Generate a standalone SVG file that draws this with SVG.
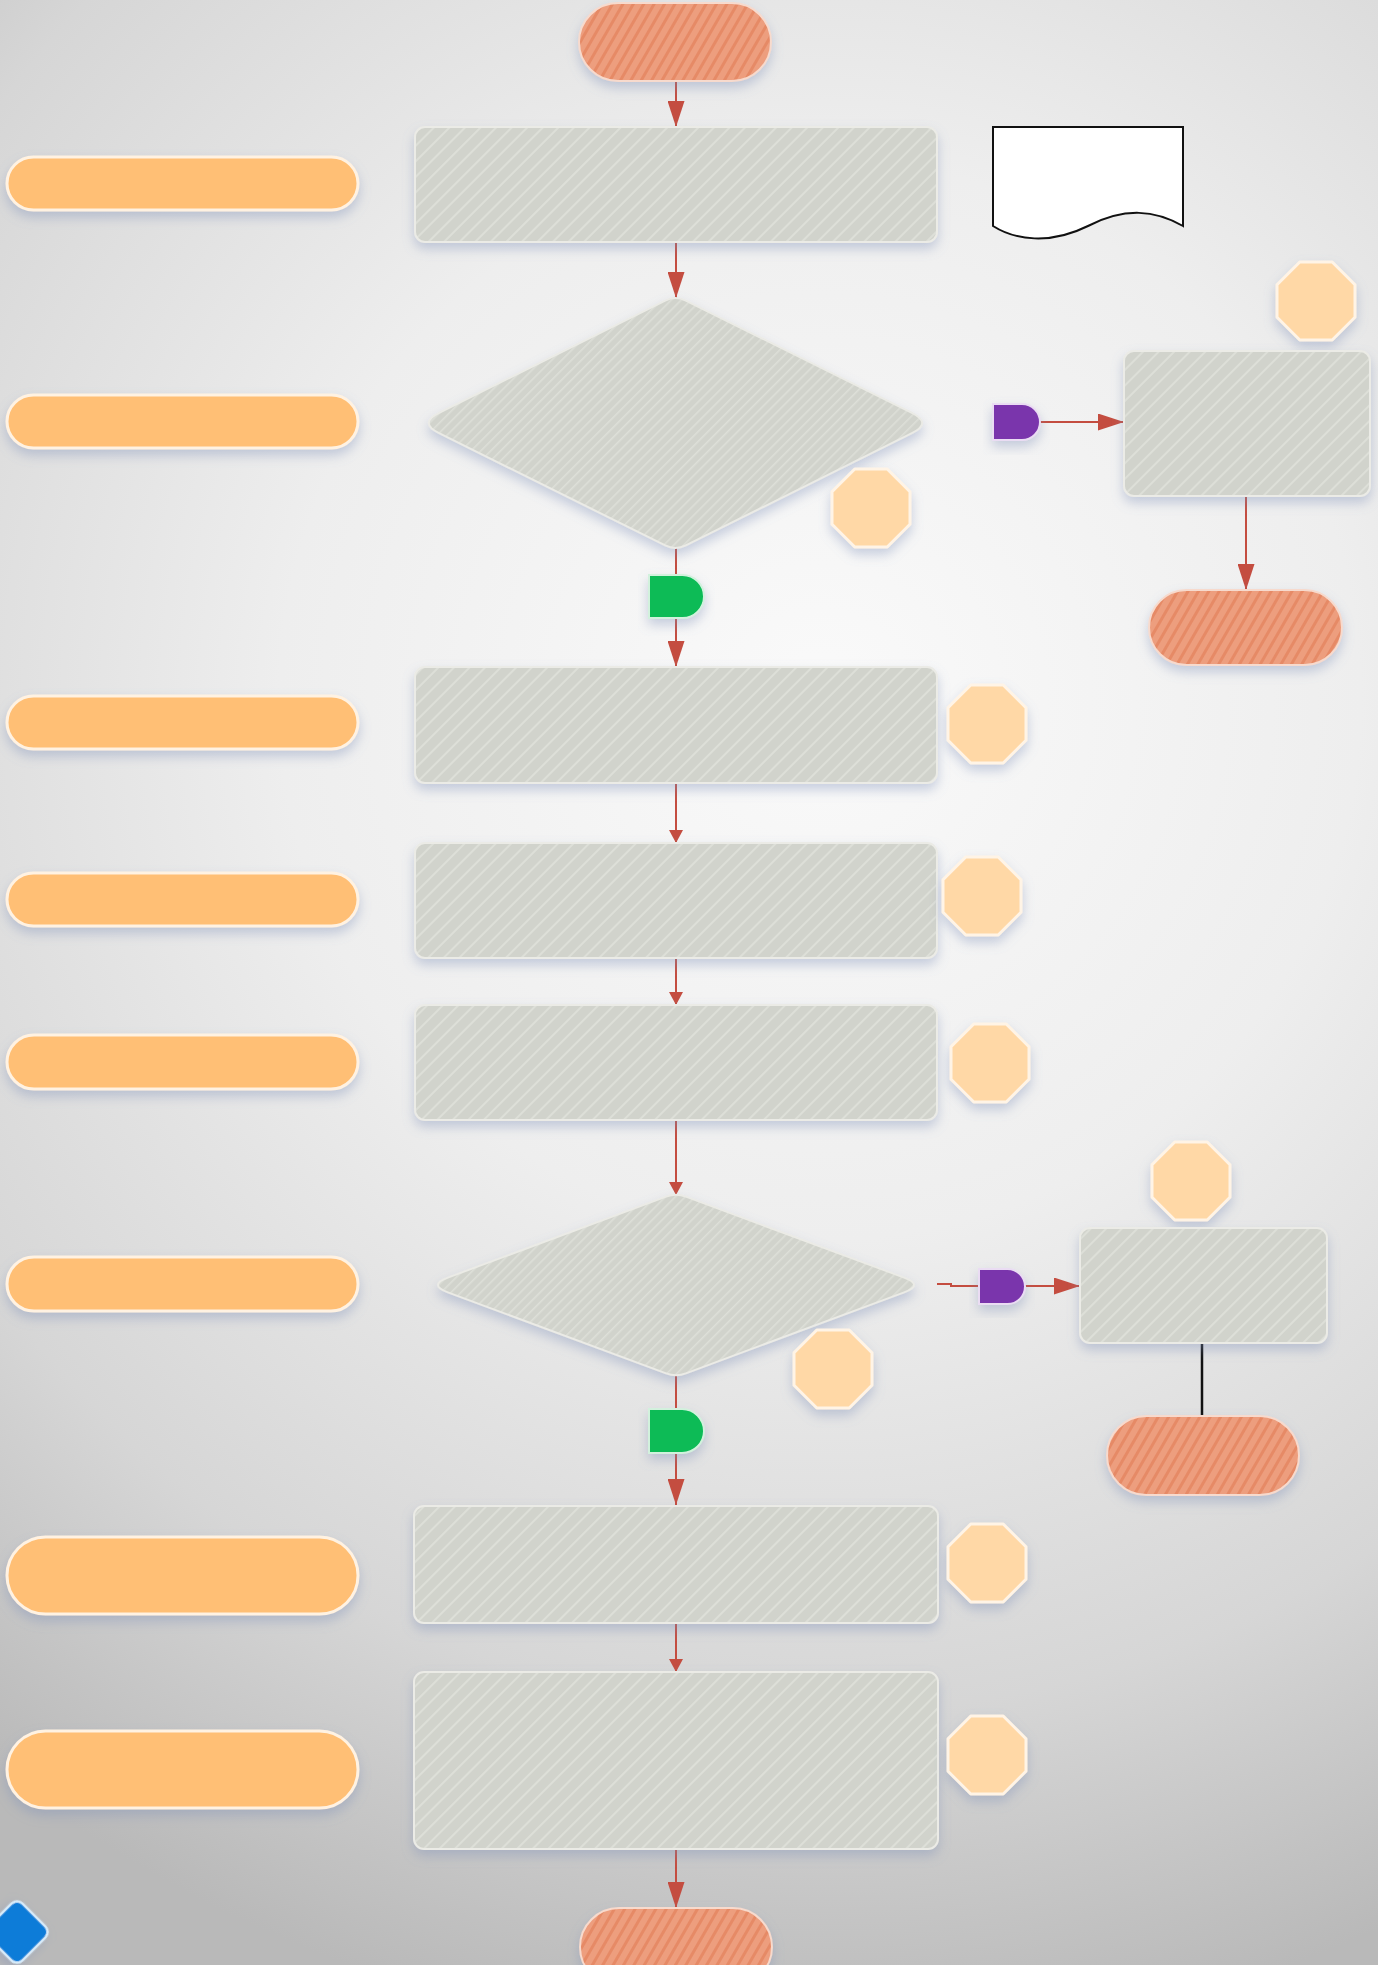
<svg xmlns="http://www.w3.org/2000/svg" width="1378" height="1965" viewBox="0 0 1378 1965">
<defs>
  <radialGradient id="bg" gradientUnits="userSpaceOnUse" cx="820" cy="700" r="1350">
    <stop offset="0" stop-color="#fafafa"/>
    <stop offset="0.4" stop-color="#eeeeee"/>
    <stop offset="0.75" stop-color="#d6d6d6"/>
    <stop offset="1" stop-color="#b9b9b9"/>
  </radialGradient>
  <pattern id="hatchRect" patternUnits="userSpaceOnUse" width="11" height="11" patternTransform="rotate(45)">
    <rect width="11" height="11" fill="#d1d3cc"/>
    <rect width="2" height="11" fill="#dddfd8"/>
  </pattern>
  <pattern id="hatchDia" patternUnits="userSpaceOnUse" width="7" height="7" patternTransform="rotate(45)">
    <rect width="7" height="7" fill="#d1d3cc"/>
    <rect width="1.6" height="7" fill="#dddfd8"/>
  </pattern>
  <pattern id="hatchTerm" patternUnits="userSpaceOnUse" width="9" height="9" patternTransform="rotate(30)">
    <rect width="9" height="9" fill="#ed9e7e"/>
    <rect width="3" height="9" fill="#e68a66"/>
  </pattern>
  <filter id="sh" x="-20%" y="-20%" width="140%" height="160%">
    <feDropShadow dx="0" dy="6" stdDeviation="6" flood-color="#7d8fb8" flood-opacity="0.4"/>
  </filter>
  <marker id="aL" markerUnits="userSpaceOnUse" markerWidth="26" markerHeight="17" refX="26" refY="8.5" orient="auto">
    <path d="M0,0 L26,8.5 L0,17 Z" fill="#c44d40"/>
  </marker>
  <marker id="aS" markerUnits="userSpaceOnUse" markerWidth="13" markerHeight="14" refX="13" refY="7" orient="auto">
    <path d="M0,0 L13,7 L0,14 Z" fill="#c44d40"/>
  </marker>
  <polygon id="octShape" points="-16.2,-39 16.2,-39 39,-16.2 39,16.2 16.2,39 -16.2,39 -39,16.2 -39,-16.2"/>
</defs>
<style>
  .proc { fill: url(#hatchRect); stroke: #ebebe6; stroke-width: 2; filter: url(#sh); }
  .dia { fill: url(#hatchDia); stroke: #ebebe6; stroke-width: 2; filter: url(#sh); }
  .term { fill: url(#hatchTerm); stroke: #f7dacd; stroke-width: 2; filter: url(#sh); }
  .pill { fill: #ffbf75; stroke: #fff2e2; stroke-width: 3; filter: url(#sh); }
  .oct { fill: #ffd8a6; stroke: #fff4e6; stroke-width: 3; stroke-linejoin: round; filter: url(#sh); }
  .dPurple { fill: #7a35ac; stroke: #eadcf3; stroke-width: 2; filter: url(#sh); }
  .dGreen { fill: #07bb56; stroke: #d2f1dd; stroke-width: 2; filter: url(#sh); }
  .doc { fill: #ffffff; stroke: #111111; stroke-width: 2; }
  .blue { fill: #0a7bd8; stroke: #d8ecfa; stroke-width: 2.5; filter: url(#sh); }
  .c { fill: none; stroke: #c44d40; stroke-width: 2; }
  .cb { fill: none; stroke: #111111; stroke-width: 2.5; }
</style>
<rect x="0" y="0" width="1378" height="1965" fill="url(#bg)"/>

<g id="connectors">
  <line class="c" x1="676" y1="81" x2="676" y2="127" marker-end="url(#aL)"/>
  <line class="c" x1="676" y1="242" x2="676" y2="298" marker-end="url(#aL)"/>
  <line class="c" x1="676" y1="548" x2="676" y2="576"/>
  <line class="c" x1="676" y1="618" x2="676" y2="667" marker-end="url(#aL)"/>
  <line class="c" x1="676" y1="783" x2="676" y2="843" marker-end="url(#aS)"/>
  <line class="c" x1="676" y1="958" x2="676" y2="1005" marker-end="url(#aS)"/>
  <line class="c" x1="676" y1="1120" x2="676" y2="1195" marker-end="url(#aS)"/>
  <line class="c" x1="676" y1="1375" x2="676" y2="1410"/>
  <line class="c" x1="676" y1="1453" x2="676" y2="1505" marker-end="url(#aL)"/>
  <line class="c" x1="676" y1="1623" x2="676" y2="1672" marker-end="url(#aS)"/>
  <line class="c" x1="676" y1="1849" x2="676" y2="1908" marker-end="url(#aL)"/>
  <line class="c" x1="1040" y1="422" x2="1124" y2="422" marker-end="url(#aL)"/>
  <line class="c" x1="1246" y1="496" x2="1246" y2="590" marker-end="url(#aL)"/>
  <path class="c" d="M937,1284 H951 V1286 H980"/>
  <line class="c" x1="1025" y1="1286" x2="1080" y2="1286" marker-end="url(#aL)"/>
  <line class="cb" x1="1202" y1="1343" x2="1202" y2="1416"/>
</g>

<g id="start"><rect class="term" x="579" y="3" width="192" height="78" rx="39"/></g>
<g id="proc1"><rect class="proc" x="415" y="127" width="522" height="115" rx="10"/></g>
<g id="document"><path class="doc" d="M993,127 H1183 V226 C1155,210 1125,207 1088,226 C1050,245 1015,240 993,226 Z"/></g>

<g id="pill1"><rect class="pill" x="7" y="157" width="351" height="53" rx="26.5"/></g>
<g id="pill2"><rect class="pill" x="7" y="395" width="351" height="53" rx="26.5"/></g>
<g id="pill3"><rect class="pill" x="7" y="696" width="351" height="53" rx="26.5"/></g>
<g id="pill4"><rect class="pill" x="7" y="873" width="351" height="53" rx="26.5"/></g>
<g id="pill5"><rect class="pill" x="7" y="1035" width="351" height="54" rx="27"/></g>
<g id="pill6"><rect class="pill" x="7" y="1257" width="351" height="54" rx="27"/></g>
<g id="pill7"><rect class="pill" x="7" y="1537" width="351" height="77" rx="38.5"/></g>
<g id="pill8"><rect class="pill" x="7" y="1731" width="351" height="77" rx="38.5"/></g>

<g id="decision1"><path class="dia" d="M685.78,300.6 L911.94,412.8 Q932.5,423 911.94,433.2 L685.78,545.4 Q675.5,550.5 665.22,545.4 L439.06,433.2 Q418.5,423 439.06,412.8 L665.22,300.6 Q675.5,295.5 685.78,300.6 Z"/></g>
<g id="oct1"><use href="#octShape" class="oct" transform="translate(871,508)"/></g>
<g id="octTop"><use href="#octShape" class="oct" transform="translate(1316,301)"/></g>
<g id="yes1"><path class="dGreen" d="M649,575 H682.5 A21.5,21.5 0 0 1 682.5,618 H649 Z"/></g>
<g id="no1"><path class="dPurple" d="M993,404 H1022 A18,18 0 0 1 1022,440 H993 Z"/></g>
<g id="sideProc1"><rect class="proc" x="1124" y="351" width="246" height="145" rx="10"/></g>
<g id="sideEnd1"><rect class="term" x="1149" y="590" width="193" height="75" rx="37.5"/></g>

<g id="proc2"><rect class="proc" x="415" y="667" width="522" height="116" rx="10"/></g>
<g id="oct2"><use href="#octShape" class="oct" transform="translate(987,724)"/></g>
<g id="proc3"><rect class="proc" x="415" y="843" width="522" height="115" rx="10"/></g>
<g id="oct3"><use href="#octShape" class="oct" transform="translate(982,896)"/></g>
<g id="proc4"><rect class="proc" x="415" y="1005" width="522" height="115" rx="10"/></g>
<g id="oct4"><use href="#octShape" class="oct" transform="translate(990,1063)"/></g>

<g id="decision2"><path class="dia" d="M685.92,1196.68 L904.16,1277.64 Q924,1285 904.16,1292.36 L685.92,1373.32 Q676,1377 666.08,1373.32 L447.84,1292.36 Q428,1285 447.84,1277.64 L666.08,1196.68 Q676,1193 685.92,1196.68 Z"/></g>
<g id="oct5"><use href="#octShape" class="oct" transform="translate(833,1369)"/></g>
<g id="yes2"><path class="dGreen" d="M649,1409 H682 A22,22 0 0 1 682,1453 H649 Z"/></g>
<g id="no2"><path class="dPurple" d="M979,1269 H1007.5 A17.5,17.5 0 0 1 1007.5,1304 H979 Z"/></g>
<g id="octSide2"><use href="#octShape" class="oct" transform="translate(1191,1181)"/></g>
<g id="sideProc2"><rect class="proc" x="1080" y="1228" width="247" height="115" rx="10"/></g>
<g id="sideEnd2"><rect class="term" x="1107" y="1416" width="192" height="79" rx="39.5"/></g>

<g id="proc6"><rect class="proc" x="414" y="1506" width="524" height="117" rx="10"/></g>
<g id="oct6"><use href="#octShape" class="oct" transform="translate(987,1563)"/></g>
<g id="proc7"><rect class="proc" x="414" y="1672" width="524" height="177" rx="10"/></g>
<g id="oct7"><use href="#octShape" class="oct" transform="translate(987,1755)"/></g>
<g id="end"><rect class="term" x="580" y="1908" width="192" height="78" rx="39"/></g>

<g id="blueMark"><rect class="blue" x="-24" y="-24" width="48" height="48" rx="8" transform="translate(17,1932) rotate(45)"/></g>
</svg>
